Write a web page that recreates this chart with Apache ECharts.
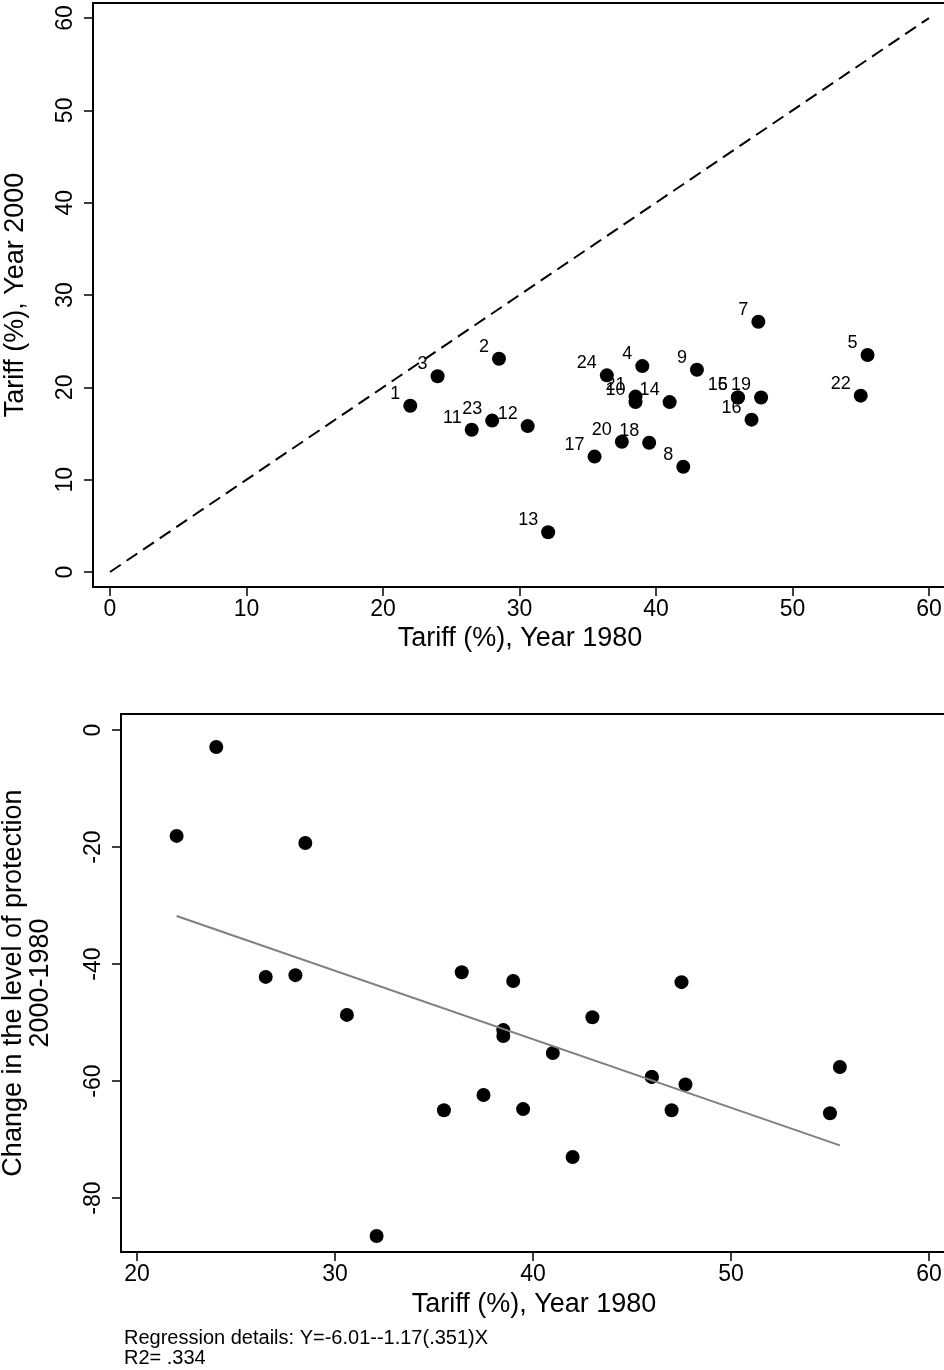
<!DOCTYPE html>
<html>
<head>
<meta charset="utf-8">
<script src="https://cdn.jsdelivr.net/npm/echarts@6/dist/echarts.min.js"></script>
<style>
html,body{margin:0;padding:0;background:#fff;}
#chart{width:944px;height:1370px;}
</style>
</head>
<body>
<div id="chart"></div>
<script>
// ---- data ----
const ids = ['1','2','3','4','5','6','7','8','9','10','11','12','13','14','15','16','17','18','19','20','21','22','23','24'];
const tariff1980 = [22.0, 28.5, 24.0, 39.0, 55.5, 46.0, 47.5, 42.0, 43.0, 38.5, 26.5, 30.6, 32.1, 41.0, 46.0, 47.0, 35.5, 39.5, 47.7, 37.5, 38.5, 55.0, 28.0, 36.4];
const tariff2000 = [18.0, 23.1, 21.2, 22.3, 23.5, 18.9, 27.1, 11.4, 21.9, 18.4, 15.4, 15.8, 4.3, 18.4, 18.9, 16.5, 12.5, 14.0, 18.9, 14.1, 19.0, 19.1, 16.4, 21.3];
const changePct = [-18.1, -19.3, -2.9, -42.9, -57.6, -59.3, -43.1, -73.0, -49.1, -52.3, -42.2, -48.7, -86.5, -55.2, -59.3, -65.0, -65.0, -64.8, -60.6, -62.4, -51.3, -65.5, -41.9, -41.4];
const diagX = [0, 60];
const diagY = [0, 60];
const fitX = [22.0, 55.5];
const fitY = [-31.8, -71.0];
const topTicks = [0, 10, 20, 30, 40, 50, 60];
const bottomXTicks = [20, 30, 40, 50, 60];
const bottomYTicks = [0, -20, -40, -60, -80];
const topXTitle = 'Tariff (%), Year 1980';
const topYTitle = 'Tariff (%), Year 2000';
const bottomXTitle = 'Tariff (%), Year 1980';
const bottomYTitle = ['Change in the level of protection', '2000-1980'];
const regressionLines = ['Regression details: Y=-6.01--1.17(.351)X', 'R2= .334'];

// ---- chart ----
const FONT = 'Liberation Sans, Arial, Helvetica, sans-serif';
const chart = echarts.init(document.getElementById('chart'), null, {renderer: 'canvas'});

function axisCommon(ticks, rotate, margin) {
  return {
    axisLine: {show: true, onZero: false, lineStyle: {color: '#000', width: 2}},
    axisTick: {show: true, customValues: ticks, length: 9, lineStyle: {color: '#000', width: 1.5}},
    axisLabel: {show: true, customValues: ticks, rotate: rotate, margin: margin, color: '#000', fontSize: 23, fontFamily: FONT},
    splitLine: {show: false},
    nameTextStyle: {color: '#000', fontSize: 27, fontFamily: FONT}
  };
}

const option = {
  backgroundColor: '#fff',
  animation: false,
  grid: [
    {left: 93, top: 3, width: 854, height: 584, show: true, borderColor: '#000', borderWidth: 2, containLabel: false, outerBoundsMode: 'none'},
    {left: 121, top: 714, width: 826, height: 538, show: true, borderColor: '#000', borderWidth: 2, containLabel: false, outerBoundsMode: 'none'}
  ],
  xAxis: [
    Object.assign({type: 'value', gridIndex: 0, min: -1.245, max: 61.32, name: topXTitle, nameLocation: 'middle', nameGap: 38}, axisCommon(topTicks, 0, 11)),
    Object.assign({type: 'value', gridIndex: 1, min: 19.19, max: 60.91, name: bottomXTitle, nameLocation: 'middle', nameGap: 39}, axisCommon(bottomXTicks, 0, 11))
  ],
  yAxis: [
    Object.assign({type: 'value', gridIndex: 0, min: -1.625, max: 61.63, name: topYTitle, nameLocation: 'middle', nameGap: 64, nameRotate: 90}, axisCommon(topTicks, 90, 16)),
    Object.assign({type: 'value', gridIndex: 1, min: -89.23, max: 2.74, name: bottomYTitle.join('\n'), nameLocation: 'middle', nameGap: 67, nameRotate: 90}, axisCommon(bottomYTicks, 90, 16))
  ],
  series: [
    {
      type: 'line', xAxisIndex: 0, yAxisIndex: 0, symbol: 'none', silent: true,
      data: diagX.map((x, i) => [x, diagY[i]]),
      lineStyle: {color: '#000', width: 2, type: [13, 7]}
    },
    {
      type: 'scatter', xAxisIndex: 0, yAxisIndex: 0, symbol: 'circle', symbolSize: 14,
      itemStyle: {color: '#000', opacity: 1},
      data: tariff1980.map((x, i) => [x, tariff2000[i], ids[i]]),
      label: {
        show: true, position: [-3, -5], align: 'right', verticalAlign: 'middle',
        formatter: p => p.value[2], color: '#000', fontSize: 18, fontFamily: FONT
      }
    },
    {
      type: 'line', xAxisIndex: 1, yAxisIndex: 1, symbol: 'none', silent: true,
      data: fitX.map((x, i) => [x, fitY[i]]),
      lineStyle: {color: '#808080', width: 2}
    },
    {
      type: 'scatter', xAxisIndex: 1, yAxisIndex: 1, symbol: 'circle', symbolSize: 14,
      itemStyle: {color: '#000', opacity: 1},
      data: tariff1980.map((x, i) => [x, changePct[i]])
    }
  ],
  graphic: [
    {
      type: 'text', left: 124, top: 1328,
      style: {text: regressionLines.join('\n'), fill: '#000', font: '20px ' + FONT, lineHeight: 20}
    }
  ]
};
chart.setOption(option);
</script>
</body>
</html>
